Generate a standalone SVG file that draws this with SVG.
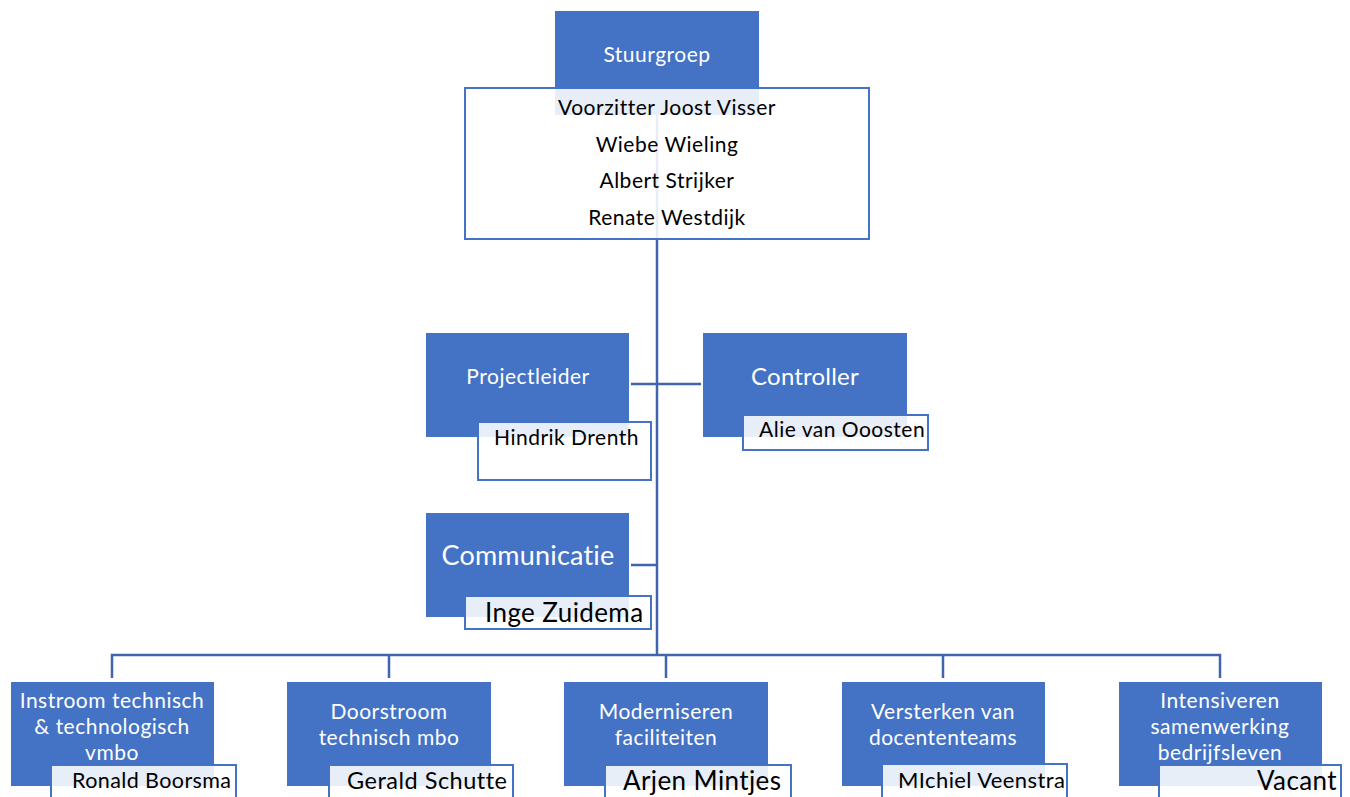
<svg xmlns="http://www.w3.org/2000/svg" width="1350" height="797" viewBox="0 0 1350 797">
<style>
.b{fill:#4472C4;}
.w{fill:#FFFFFF;fill-opacity:0.88;stroke:#4472C4;stroke-width:2;}
.c{fill:none;stroke:#4165AD;stroke-width:2.5;}
.t{font-family:Lato,"Liberation Sans",sans-serif;fill:#FFFFFF;text-anchor:middle;letter-spacing:0.5px;}
.k{font-family:Lato,"Liberation Sans",sans-serif;fill:#000000;letter-spacing:0.5px;}
</style>
<rect width="1350" height="797" fill="#FFFFFF"/>
<g id="connectors">
<path class="c" d="M657,90 V655"/>
<path class="c" d="M631,384 H701"/>
<path class="c" d="M631,565 H657"/>
<path class="c" d="M112,678 V655 H1220 V678"/>
<path class="c" d="M389,655 V678 M666,655 V678 M943,655 V678"/>
</g>
<g id="stuurgroep">
<rect class="b" x="555" y="11" width="204" height="104"/>
<text class="t" x="657" y="62" font-size="21">Stuurgroep</text>
<rect class="w" x="465" y="88" width="404" height="151"/>
<g class="k" font-size="21" text-anchor="middle">
<text x="667" y="115">Voorzitter Joost Visser</text>
<text x="667" y="152">Wiebe Wieling</text>
<text x="667" y="188">Albert Strijker</text>
<text x="667" y="225">Renate Westdijk</text>
</g>
</g>
<g id="projectleider">
<rect class="b" x="426" y="333" width="203" height="104"/>
<text class="t" x="528" y="384" font-size="21">Projectleider</text>
<rect class="w" x="478" y="422" width="173" height="58"/>
<text class="k" x="494" y="445" font-size="21">Hindrik Drenth</text>
</g>
<g id="controller">
<rect class="b" x="703" y="333" width="204" height="104"/>
<text class="t" x="805" y="385" font-size="24" style="letter-spacing:0.2px">Controller</text>
<rect class="w" x="743" y="415" width="185" height="35"/>
<text class="k" x="759" y="437" font-size="21">Alie van Ooosten</text>
</g>
<g id="communicatie">
<rect class="b" x="426" y="513" width="203" height="104"/>
<text class="t" x="528" y="565" font-size="27" style="letter-spacing:0.2px">Communicatie</text>
<rect class="w" x="465" y="596" width="186" height="33"/>
<text class="k" x="485" y="622" font-size="26" style="letter-spacing:0.4px">Inge Zuidema</text>
</g>
<g id="instroom">
<rect class="b" x="11" y="682" width="203" height="104"/>
<text class="t" x="112" y="708" font-size="21">Instroom technisch</text>
<text class="t" x="112" y="734" font-size="21">&amp; technologisch</text>
<text class="t" x="112" y="760" font-size="21">vmbo</text>
<rect class="w" x="51" y="765" width="185" height="40"/>
<text class="k" x="72" y="788" font-size="21.5" style="letter-spacing:0.4px">Ronald Boorsma</text>
</g>
<g id="doorstroom">
<rect class="b" x="287" y="682" width="204" height="104"/>
<text class="t" x="389" y="719" font-size="21">Doorstroom</text>
<text class="t" x="389" y="745" font-size="21">technisch mbo</text>
<rect class="w" x="329" y="765" width="184" height="40"/>
<text class="k" x="347" y="789" font-size="23.5">Gerald Schutte</text>
</g>
<g id="moderniseren">
<rect class="b" x="564" y="682" width="204" height="104"/>
<text class="t" x="666" y="719" font-size="21">Moderniseren</text>
<text class="t" x="666" y="745" font-size="21">faciliteiten</text>
<rect class="w" x="605" y="765" width="186" height="40"/>
<text class="k" x="623" y="790" font-size="26" style="letter-spacing:0.4px">Arjen Mintjes</text>
</g>
<g id="versterken">
<rect class="b" x="842" y="682" width="203" height="104"/>
<text class="t" x="943" y="719" font-size="21">Versterken van</text>
<text class="t" x="943" y="745" font-size="21">docententeams</text>
<rect class="w" x="882" y="764" width="185" height="40"/>
<text class="k" x="898" y="788" font-size="22" style="letter-spacing:0.4px">MIchiel Veenstra</text>
</g>
<g id="intensiveren">
<rect class="b" x="1119" y="682" width="203" height="104"/>
<text class="t" x="1220" y="708" font-size="21">Intensiveren</text>
<text class="t" x="1220" y="734" font-size="21">samenwerking</text>
<text class="t" x="1220" y="760" font-size="21">bedrijfsleven</text>
<rect class="w" x="1159" y="765" width="182" height="40"/>
<text class="k" x="1337" y="790" font-size="26" text-anchor="end" style="letter-spacing:0.4px">Vacant</text>
</g>
</svg>
